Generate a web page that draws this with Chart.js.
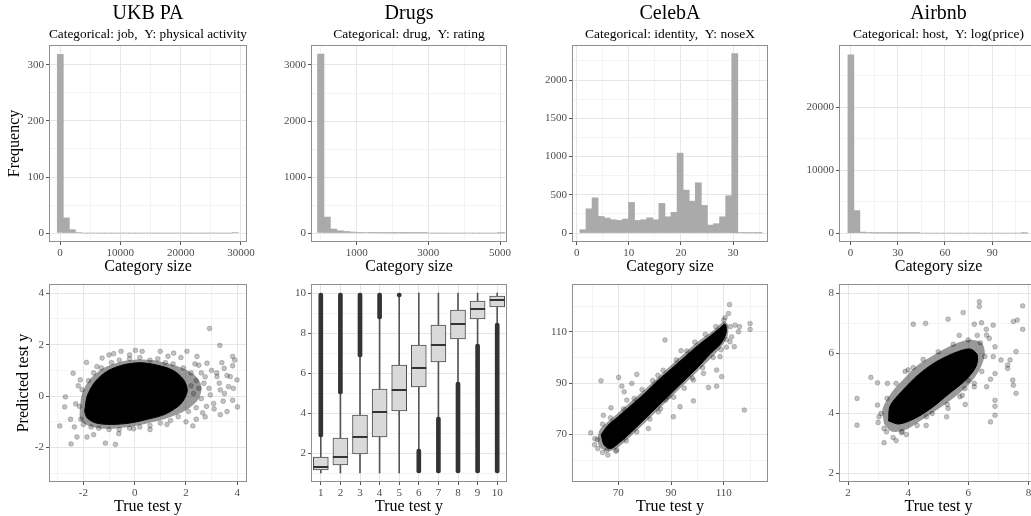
<!DOCTYPE html>
<html>
<head>
<meta charset="utf-8">
<script src="https://cdn.jsdelivr.net/npm/chart.js@4.4.1/dist/chart.umd.min.js"></script>
<style>
    html, body { margin: 0; padding: 0; background: #fff; overflow: hidden; }
    #wrap { position: relative; width: 1031px; height: 516px; overflow: hidden; }
    #wrap canvas { position: absolute; left: 0; top: 0; }
</style>
</head>
<body>
<div id="wrap">
    <canvas id="ukbHist" width="1060" height="516"></canvas>
    <canvas id="drugsHist" width="1060" height="516"></canvas>
    <canvas id="celebHist" width="1060" height="516"></canvas>
    <canvas id="airbnbHist" width="1060" height="516"></canvas>
    <canvas id="ukbPred" width="1060" height="516"></canvas>
    <canvas id="drugsPred" width="1060" height="516"></canvas>
    <canvas id="celebPred" width="1060" height="516"></canvas>
    <canvas id="airbnbPred" width="1060" height="516"></canvas>
</div>
<script>
// 1. Data
// --- histograms of category size (bin centres + counts)
const ukbBins = [50, 1050, 2050, 3050, 4050, 5050, 6050, 7050, 8050, 9050, 10050, 11050, 12050, 13050, 14050,
    15050, 16050, 17050, 18050, 19050, 20050, 21050, 22050, 23050, 24050, 25050, 26050, 27050, 28050, 29050];
const ukbCounts = [319, 27, 6, 1, 0, 0, 0, 0, 0, 0, 0, 0, 0, 0, 0, 0, 0, 0, 0, 0, 0, 0, 0, 0, 0, 0, 0, 0, 0, 1];

const drugsBins = [-4, 176, 356, 536, 716, 896, 1076, 1256, 1436, 1616, 1796, 1976, 2156, 2336, 2516, 2696,
    2876, 3056, 3236, 3416, 3596, 3776, 3956, 4136, 4316, 4496, 4676, 4856, 5036];
const drugsCounts = [3197, 285, 71, 41, 28, 18, 12, 8, 5, 4, 3, 2, 2, 1, 1, 1, 1, 0, 0, 0, 0, 0, 0, 0, 0, 0, 0, 0, 1];

const celebBins = [1.2, 2.365, 3.53, 4.695, 5.86, 7.025, 8.19, 9.355, 10.52, 11.685, 12.85, 14.015, 15.18, 16.345,
    17.51, 18.675, 19.84, 21.005, 22.17, 23.335, 24.5, 25.665, 26.83, 27.995, 29.16, 30.325, 31.49, 32.655, 33.82, 34.985];
const celebCounts = [43, 317, 460, 217, 196, 174, 165, 183, 400, 165, 174, 200, 174, 387, 213, 270, 1044, 561, 417,
    657, 361, 104, 122, 213, 487, 2345, 4, 3, 3, 2];

const airbnbBins = [0.3, 4.1, 7.9, 11.7, 15.5, 19.3, 23.1, 26.9, 30.7, 34.5, 38.3, 42.1, 45.9, 49.7, 53.5, 57.3,
    61.1, 64.9, 68.7, 72.5, 76.3, 80.1, 83.9, 87.7, 91.5, 95.3, 99.1, 102.9, 106.7, 110.5];
const airbnbCounts = [28316, 3580, 160, 45, 15, 8, 4, 3, 2, 1, 1, 1, 0, 0, 0, 0, 0, 0, 0, 0, 0, 0, 0, 0, 0, 0, 0, 0, 0, 1];

// --- UKB PA: dense core, lighter fringe and scattered points (true y, predicted y)
const ukbCore = [[-1.95, -0.6], [-1.85, 0.0], [-1.55, 0.55], [-1.1, 0.95], [-0.5, 1.2], [0.2, 1.3], [0.9, 1.2],
    [1.5, 1.0], [1.9, 0.65], [2.05, 0.2], [1.8, -0.3], [1.2, -0.7], [0.5, -0.9], [-0.2, -1.05], [-0.9, -1.1],
    [-1.5, -1.05], [-1.85, -0.85], [-1.95, -0.6]];
const ukbFringe = [[-2.15, -0.7], [-2.05, 0.1], [-1.7, 0.7], [-1.2, 1.1], [-0.5, 1.35], [0.3, 1.42], [1.0, 1.35],
    [1.7, 1.15], [2.3, 0.85], [2.6, 0.4], [2.5, -0.1], [2.0, -0.55], [1.2, -0.88], [0.4, -1.08],
    [-0.4, -1.22], [-1.2, -1.27], [-1.8, -1.15], [-2.1, -0.95], [-2.15, -0.7]];
const ukbPoints = [[2.92, 2.63], [3.32, 1.97], [3.82, 1.54], [3.82, 1.18], [4.01, -0.42], [3.82, -0.16], [3.66, 0.37],
    [3.34, 0.24], [3.21, 0.76], [2.82, 1.28], [2.43, 1.54], [2.04, 1.74], [1.52, 1.67], [1.0, 1.74], [0.29, 1.74],
    [0.03, 1.78], [-0.53, 1.74], [-0.82, 1.65], [-1.88, 1.31], [-2.4, 0.89], [-2.7, -0.03], [-2.73, -0.42],
    [-2.92, -1.16], [-2.48, -1.86], [-1.86, -1.59], [-1.14, -1.83], [-0.75, -1.88], [-0.62, -1.46], [-0.04, -1.27],
    [1.26, -1.1], [2.27, -1.16], [2.75, -0.81], [3.34, -0.72], [3.08, -0.29], [3.73, 0.76], [3.99, 0.63],
    [3.49, 1.08], [-2.25, -1.59], [-2.12, 0.63], [-1.47, 1.15], [-1.27, 1.48], [2.6, 0.9], [2.9, 0.3],
    [3.1, -0.5], [2.4, -0.9], [-2.5, -0.9], [-2.3, -0.3], [1.8, 1.5], [-0.2, 1.6], [0.6, -1.3], [-1.6, -1.5],
    [3.5, 0.1], [3.6, -0.6], [2.0, -1.0], [-1.0, 1.6], [1.3, 1.55], [3.0, 1.0], [3.3, 0.5], [3.6, 0.8],
    [3.9, 1.4], [3.85, 0.3],
    [-2.1, -0.9], [-2.15, -0.4], [-2.05, 0.25], [-1.8, 0.6], [-1.6, 0.9], [-1.3, 1.1], [-0.9, 1.3], [-0.6, 1.4],
    [-0.2, 1.45], [0.2, 1.5], [0.6, 1.4], [0.9, 1.45], [1.2, 1.3], [1.5, 1.25], [1.9, 1.1], [2.2, 0.9],
    [2.4, 0.6], [2.5, 0.3], [2.3, 0.1], [2.6, -0.1], [2.4, -0.45], [2.1, -0.6], [1.7, -0.8], [1.4, -0.95],
    [1.0, -1.05], [0.6, -1.15], [0.2, -1.2], [-0.2, -1.25], [-0.6, -1.3], [-1.0, -1.3], [-1.4, -1.25],
    [-1.7, -1.2], [-2.0, -1.1], [2.7, 0.5], [2.2, 0.4], [2.8, -0.4], [3.2, 0.9], [3.4, 1.3], [2.5, 1.2],
    [-2.2, 0.4], [2.95, 0.05], [2.65, -0.65], [3.45, -0.2], [2.75, 0.75], [2.35, 1.25], [-2.35, -1.2]];

// --- Drugs: boxplot per true rating
const drugsCats = ['1', '2', '3', '4', '5', '6', '7', '8', '9', '10'];
const drugsQ1 = [1.15, 1.4, 1.95, 2.8, 4.1, 5.3, 6.55, 7.7, 8.7, 9.3];
const drugsMedian = [1.3, 1.8, 2.8, 4.05, 5.15, 6.25, 7.4, 8.45, 9.2, 9.65];
const drugsQ3 = [1.8, 2.75, 3.9, 5.2, 6.4, 7.4, 8.4, 9.15, 9.6, 9.85];
const drugsWhiskerLow = [1.0, 1.0, 1.0, 1.0, 1.0, 2.2, 3.8, 5.55, 7.45, 8.5];
const drugsWhiskerHigh = [2.8, 4.95, 6.8, 8.7, 9.8, 10, 10, 10, 10, 10];
const drugsOutlierLow = [2.8, 4.95, 6.8, 8.7, 9.8, 1.0, 1.0, 1.0, 1.0, 1.0];
const drugsOutlierHigh = [10, 10, 10, 10, 10, 2.2, 3.8, 5.55, 7.45, 8.5];

// --- CelebA: narrow diagonal band
const celebCore = [[63.5, 70], [66, 73.5], [70, 77], [75, 81.5], [80, 86], [85, 91], [90, 95.5], [95, 100],
    [100, 104.5], [105, 108.5], [108, 111], [110.5, 113], [111, 110], [109, 105.5], [105, 101.5], [100, 96],
    [95, 91], [90, 86], [85, 81], [80, 76], [75, 71], [70, 66.5], [67, 64.5], [64.5, 66], [63.5, 70]];
const celebFringe = [[62, 68], [63, 72], [66, 75], [70, 78.5], [80, 87.5], [90, 97], [100, 106], [106, 110.5],
    [110, 114], [111.5, 113], [111.5, 108.5], [109, 104], [100, 94.5], [90, 84.5], [80, 74.5], [70, 65],
    [66.5, 63.5], [63, 65], [62, 68]];
const celebPoints = [[112.2, 120.6], [111.8, 117.1], [120, 113.2], [120, 110.9], [114.3, 112.6], [115.6, 110],
    [114, 104.2], [112.4, 106.1], [108.6, 100.3], [107.3, 95.1], [104.2, 88.3], [107.3, 88.8], [109.2, 92.5],
    [117.8, 79.5], [98.5, 83.1], [87.7, 106.8], [93.8, 102.6], [90.9, 76.9], [89, 84.7], [81.4, 72.3],
    [85.2, 78.8], [77, 93.4], [70.1, 92.2], [63.4, 90.9], [71.3, 88.8], [72.2, 86.6], [75.1, 89.9], [67.2, 80.4],
    [64.3, 77.5], [59.5, 70.6], [61.1, 68.4], [62.2, 64.5], [65.6, 63.9], [69.4, 63.9], [73.2, 83.4],
    [79.5, 79.5], [82.7, 80.8], [93.4, 80.8], [98.5, 91.2], [102.3, 93.8], [113, 108], [111, 104], [116, 112],
    [64, 74], [67, 76.5], [72, 80], [76, 84], [79, 87.5], [83, 91], [87, 95], [92, 99], [96, 102.5], [99, 106],
    [103, 109], [107, 112], [110, 114.5], [66, 62], [69, 63.5], [73, 67.5], [77, 71], [82, 76], [86, 80],
    [91, 84.5], [95, 88], [98, 92], [102, 96], [106, 100], [109, 103], [111, 107], [62, 68], [61, 66], [64, 63],
    [112.5, 112], [110.5, 115.5], [68, 74.5], [74, 79], [88, 83.5], [85, 93]];

// --- Airbnb: elongated cloud
const airbnbCore = [[3.35, 3.75], [3.4, 4.25], [3.8, 4.75], [4.35, 5.3], [4.9, 5.7], [5.5, 6.0], [6.05, 6.15],
    [6.3, 5.95], [6.25, 5.55], [5.9, 5.1], [5.35, 4.65], [4.8, 4.2], [4.25, 3.85], [3.7, 3.65], [3.35, 3.75]];
const airbnbFringe = [[3.2, 3.65], [3.15, 4.15], [3.45, 4.7], [3.85, 5.15], [4.3, 5.6], [4.85, 5.95], [5.4, 6.25],
    [6.0, 6.45], [6.45, 6.35], [6.55, 6.0], [6.4, 5.5], [6.05, 5.0], [5.55, 4.55], [5.0, 4.15], [4.4, 3.75],
    [3.9, 3.45], [3.45, 3.4], [3.2, 3.65]];
const airbnbPoints = [[2.3, 4.5], [2.3, 3.61], [2.76, 5.2], [2.98, 5.02], [3.31, 5.0], [2.98, 4.28], [3.03, 3.89],
    [3.2, 3.03], [3.28, 3.39], [4.17, 6.97], [4.58, 7.0], [5.33, 7.14], [5.83, 7.36], [6.2, 6.97], [6.37, 7.72],
    [6.37, 7.56], [6.44, 7.02], [6.83, 6.94], [6.89, 6.22], [6.61, 6.61], [7.5, 7.06], [7.63, 7.11], [7.81, 7.58],
    [7.81, 6.8], [7.59, 6.06], [7.39, 5.78], [7.31, 5.61], [7.31, 5.5], [7.48, 5.11], [7.5, 4.94], [7.59, 4.67],
    [7.09, 5.78], [6.89, 5.33], [6.74, 5.14], [6.61, 4.89], [6.89, 4.44], [6.89, 4.24], [6.89, 3.94], [6.74, 3.72],
    [6.2, 4.89], [5.89, 4.83], [5.72, 4.56], [5.33, 4.17], [5.28, 3.89], [4.61, 3.89], [3.94, 3.3], [3.78, 3.36],
    [4.42, 4.67], [4.17, 5.53], [6.83, 5.89],
    [3.2, 3.5], [3.1, 4.0], [3.3, 4.5], [3.6, 5.0], [4.0, 5.45], [4.5, 5.8], [5.0, 6.05], [5.5, 6.3], [6.0, 6.45],
    [6.4, 6.35], [6.55, 5.9], [6.45, 5.4], [6.2, 5.0], [5.8, 4.6], [5.3, 4.3], [4.8, 4.0], [4.3, 3.6], [3.8, 3.4],
    [3.5, 3.2], [3.0, 3.7], [3.9, 5.4], [6.7, 6.5], [5.9, 4.3], [4.6, 3.6], [6.6, 6.8], [5.7, 6.6], [3.6, 3.1],
    [6.3, 6.6], [6.0, 5.1]];

// --- tick labels (major) and minor grid positions
const ukbHistXMajor = [0, 10000, 20000, 30000], ukbHistXMinor = [5000, 15000, 25000];
const ukbHistYMajor = [0, 100, 200, 300], ukbHistYMinor = [50, 150, 250];
const drugsHistXMajor = [1000, 3000, 5000], drugsHistXMinor = [0, 2000, 4000];
const drugsHistYMajor = [0, 1000, 2000, 3000], drugsHistYMinor = [500, 1500, 2500];
const celebHistXMajor = [0, 10, 20, 30], celebHistXMinor = [5, 15, 25, 35];
const celebHistYMajor = [0, 500, 1000, 1500, 2000], celebHistYMinor = [250, 750, 1250, 1750, 2250];
const airbnbHistXMajor = [0, 30, 60, 90], airbnbHistXMinor = [15, 45, 75, 105];
const airbnbHistYMajor = [0, 10000, 20000], airbnbHistYMinor = [5000, 15000, 25000];
const ukbPredMajor = [-2, 0, 2, 4], ukbPredMinor = [-3, -1, 1, 3];
const drugsPredYMajor = [2, 4, 6, 8, 10], drugsPredYMinor = [1, 3, 5, 7, 9];
const celebPredMajor = [70, 90, 110], celebPredMinor = [60, 80, 100, 120];
const airbnbPredMajor = [2, 4, 6, 8], airbnbPredMinor = [3, 5, 7];

// 2. Shared look (ggplot theme_bw-like)
const SERIF = "'Liberation Serif', 'Times New Roman', serif";
const CANVAS_W = 1060, CANVAS_H = 516;
const X_AXIS_H = 34;

const panelBorder = {
    id: 'panelBorder',
    afterDraw(chart) {
        const a = chart.chartArea;
        const ctx = chart.ctx;
        ctx.save();
        ctx.strokeStyle = '#8f8f8f';
        ctx.lineWidth = 1;
        ctx.strokeRect(Math.round(a.left) + 0.5, Math.round(a.top) + 0.5,
            Math.round(a.right - a.left) - 1, Math.round(a.bottom - a.top) - 1);
        ctx.restore();
    }
};

function gridStyle(isMajor) {
    return {
        offset: false,
        lineWidth: 1,
        drawTicks: true,
        tickLength: 3,
        color: (c) => isMajor(c) ? '#e6e6e6' : '#f3f3f3',
        tickColor: (c) => isMajor(c) ? '#555' : 'rgba(0,0,0,0)'
    };
}

function linearAxis(min, max, major, minor, title, afterFit) {
    const all = major.concat(minor).filter(v => v >= min && v <= max).sort((a, b) => a - b);
    const isMajor = (c) => !!c.tick && major.includes(c.tick.value);
    return {
        type: 'linear',
        min: min,
        max: max,
        offset: false,
        border: { display: false },
        afterBuildTicks: (scale) => { scale.ticks = all.map(v => ({ value: v })); },
        afterFit: afterFit,
        grid: gridStyle(isMajor),
        ticks: {
            autoSkip: false, maxRotation: 0, minRotation: 0, padding: 2,
            color: '#4d4d4d', font: { family: SERIF, size: 11 },
            callback: (v) => major.includes(v) ? String(v) : ''
        },
        title: {
            display: !!title, text: title || '', color: '#000', padding: 0,
            font: { family: SERIF, size: 16 }
        }
    };
}

function fitWidth(w) { return (s) => { s.width = w; }; }
function fitHeight(h) { return (s) => { s.height = h; }; }

// frame: page position of the plotting panel
function frameOptions(frame, topRow) {
    const padding = {
        left: frame.L - frame.yw,
        right: CANVAS_W - frame.R,
        top: topRow ? 0 : frame.T,
        bottom: CANVAS_H - (frame.B + X_AXIS_H)
    };
    return {
        responsive: false,
        devicePixelRatio: 1,
        animation: false,
        events: [],
        layout: { padding: padding }
    };
}

function titlePlugins(title, subtitle) {
    return {
        legend: { display: false },
        tooltip: { enabled: false },
        title: {
            display: true, text: title, fullSize: false, color: '#000',
            font: { family: SERIF, size: 20, weight: 'normal' }, padding: { top: 2, bottom: 0 }
        },
        subtitle: {
            display: true, text: subtitle, fullSize: false, color: '#000',
            font: { family: SERIF, size: 13.5, weight: 'normal' }, padding: { top: 0, bottom: 2.8 }
        }
    };
}

// 3. Histograms (top row)
function histogram(id, frame, bins, counts, xLim, yLim, xMajor, xMinor, yMajor, yMinor, yTitle, title, subtitle) {
    const opts = frameOptions(frame, true);
    opts.plugins = titlePlugins(title, subtitle);
    opts.scales = {
        x: linearAxis(xLim[0], xLim[1], xMajor, xMinor, 'Category size', fitHeight(X_AXIS_H)),
        y: linearAxis(yLim[0], yLim[1], yMajor, yMinor, yTitle, fitWidth(frame.yw))
    };
    new Chart(document.getElementById(id), {
        type: 'bar',
        data: {
            datasets: [{
                data: bins.map((b, i) => ({ x: b, y: counts[i] })),
                backgroundColor: '#aaaaaa',
                borderWidth: 0,
                barPercentage: 1,
                categoryPercentage: 1
            }]
        },
        options: opts,
        plugins: [panelBorder]
    });
}

const topRow = { T: 45, B: 242 };
const botRow = { T: 284, B: 482 };

histogram('ukbHist', { L: 49, R: 247, yw: 43.6, ...topRow }, ukbBins, ukbCounts, [-1824, 31000], [-16, 335.6],
    ukbHistXMajor, ukbHistXMinor, ukbHistYMajor, ukbHistYMinor, 'Frequency',
    'UKB PA', 'Categorical: job,  Y: physical activity');
histogram('drugsHist', { L: 311, R: 507, yw: 36, ...topRow }, drugsBins, drugsCounts, [-276, 5195], [-160, 3357],
    drugsHistXMajor, drugsHistXMinor, drugsHistYMajor, drugsHistYMinor, '',
    'Drugs', 'Categorical: drug,  Y: rating');
histogram('celebHist', { L: 572, R: 768, yw: 36, ...topRow }, celebBins, celebCounts, [-0.9, 36.7], [-117, 2458],
    celebHistXMajor, celebHistXMinor, celebHistYMajor, celebHistYMinor, '',
    'CelebA', 'Categorical: identity,  Y: noseX');
histogram('airbnbHist', { L: 839, R: 1038, yw: 36, ...topRow }, airbnbBins, airbnbCounts, [-7.25, 119.1], [-1416, 29890],
    airbnbHistXMajor, airbnbHistXMinor, airbnbHistYMajor, airbnbHistYMinor, '',
    'Airbnb', 'Categorical: host,  Y: log(price)');

// 4. Predicted vs true scatter (bottom row)
const toXY = (pairs) => pairs.map(p => ({ x: p[0], y: p[1] }));

function scatter(id, frame, core, fringe, points, xLim, yLim, major, minor, yTitle) {
    const opts = frameOptions(frame, false);
    opts.plugins = { legend: { display: false }, tooltip: { enabled: false } };
    opts.scales = {
        x: linearAxis(xLim[0], xLim[1], major, minor, 'True test y', fitHeight(X_AXIS_H)),
        y: linearAxis(yLim[0], yLim[1], major, minor, yTitle, fitWidth(frame.yw))
    };
    new Chart(document.getElementById(id), {
        type: 'scatter',
        data: {
            datasets: [
                {
                    data: toXY(points), order: 0,
                    pointRadius: 2.4, pointBackgroundColor: 'rgba(0,0,0,0.24)',
                    pointBorderColor: 'rgba(0,0,0,0.32)', pointBorderWidth: 0.6
                },
                {
                    data: toXY(core), order: 1, showLine: true, fill: 'shape', tension: 0.3,
                    pointRadius: 0, backgroundColor: '#000', borderColor: '#000', borderWidth: 1
                },
                {
                    data: toXY(fringe), order: 2, showLine: true, fill: 'shape', tension: 0.3,
                    pointRadius: 0, backgroundColor: 'rgba(0,0,0,0.4)', borderColor: 'rgba(0,0,0,0)', borderWidth: 1
                }
            ]
        },
        options: opts,
        plugins: [panelBorder]
    });
}

scatter('ukbPred', { L: 49, R: 247, yw: 34.6, ...botRow }, ukbCore, ukbFringe, ukbPoints,
    [-3.34, 4.38], [-3.34, 4.36], ukbPredMajor, ukbPredMinor, 'Predicted test y');
scatter('celebPred', { L: 572, R: 768, yw: 36, ...botRow }, celebCore, celebFringe, celebPoints,
    [52.4, 126.8], [51.5, 128.6], celebPredMajor, celebPredMinor, '');
scatter('airbnbPred', { L: 839, R: 1038, yw: 36, ...botRow }, airbnbCore, airbnbFringe, airbnbPoints,
    [1.7, 8.32], [1.72, 8.31], airbnbPredMajor, airbnbPredMinor, '');

// 5. Drugs boxplot (bottom row, second panel)
(function () {
    const frame = { L: 311, R: 507, yw: 36, ...botRow };
    const opts = frameOptions(frame, false);
    opts.plugins = { legend: { display: false }, tooltip: { enabled: false } };
    opts.scales = {
        x: {
            type: 'category',
            offset: true,
            border: { display: false },
            afterFit: fitHeight(X_AXIS_H),
            grid: gridStyle(() => true),
            ticks: { autoSkip: false, maxRotation: 0, minRotation: 0, padding: 2, color: '#4d4d4d', font: { family: SERIF, size: 11 } },
            title: { display: true, text: 'True test y', color: '#000', padding: 0, font: { family: SERIF, size: 16 } }
        },
        y: linearAxis(0.55, 10.45, drugsPredYMajor, drugsPredYMinor, '', fitWidth(frame.yw))
    };
    new Chart(document.getElementById('drugsPred'), {
        type: 'bar',
        data: {
            labels: drugsCats,
            datasets: [
                {
                    type: 'line', data: drugsMedian, order: 0, showLine: false,
                    pointStyle: 'line', pointRadius: 7.5, pointBorderWidth: 2, pointBorderColor: '#333'
                },
                {
                    data: drugsQ1.map((q, i) => [q, drugsQ3[i]]), order: 1, grouped: false,
                    barThickness: 15, backgroundColor: '#d9d9d9', borderColor: '#4d4d4d',
                    borderWidth: 1, borderSkipped: false
                },
                {
                    data: drugsOutlierLow.map((v, i) => [v, drugsOutlierHigh[i]]), order: 2, grouped: false,
                    barThickness: 4, backgroundColor: '#333', borderRadius: 2, borderSkipped: false
                },
                {
                    data: drugsWhiskerLow.map((v, i) => [v, drugsWhiskerHigh[i]]), order: 3, grouped: false,
                    barThickness: 1, backgroundColor: '#555'
                }
            ]
        },
        options: opts,
        plugins: [panelBorder]
    });
})();
</script>
</body>
</html>
